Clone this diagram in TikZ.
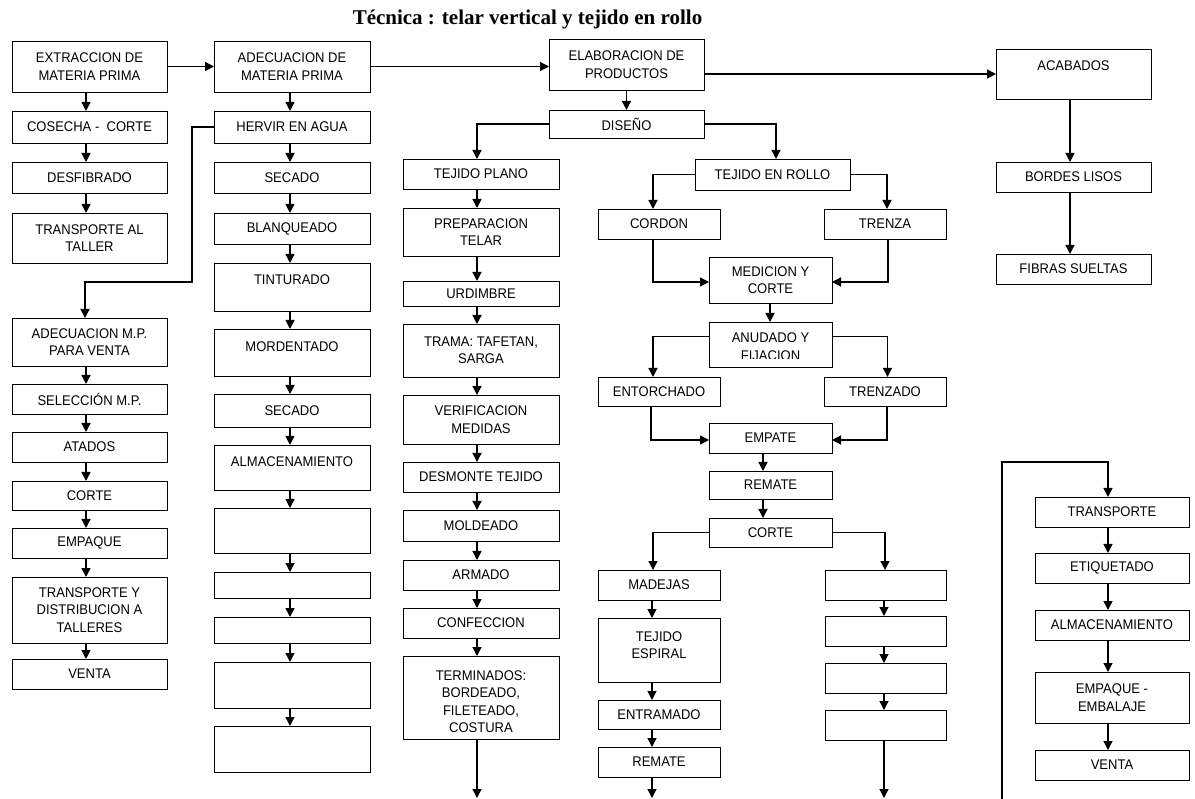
\documentclass[tikz,border=0pt]{standalone}
\usepackage{fontspec}
\setmainfont[FakeStretch=0.93]{Liberation Sans}
\newfontfamily\titlefont{Liberation Serif}
\usetikzlibrary{arrows.meta}

\newcommand\boxfont{\fontsize{14}{17.5}\selectfont}
\tikzset{
  box/.style={draw, line width=0.9pt, align=center, inner sep=2pt, outer sep=0pt, font=\boxfont},
  lbl/.style={align=center, inner sep=0pt, font=\boxfont},
  arr/.style={line width=1.3pt, -{Triangle[length=9pt,width=9pt]}},
}
% \bx[options]{name}{x1}{y1}{x2}{y2}{text}: box by its corners
\newcommand\bx[7][]{%
  \pgfmathsetmacro\bxw{#5-#3}%
  \pgfmathsetmacro\bxh{#6-#4}%
  \node[box,minimum width=\bxw pt,minimum height=\bxh pt,anchor=north west,#1] (#2) at (#3,#4) {#7};}
% \dn[xshift]{from}{to}: straight downward arrow
\newcommand\dn[3][0]{\draw[arr] ([xshift=#1pt]#2.south) -- ([xshift=#1pt]#3.north);}

\begin{document}
\begin{tikzpicture}[x=1pt,y=-1pt]
\useasboundingbox (0,0) rectangle (1195,799);

\node[font=\titlefont\bfseries\fontsize{21}{23}\selectfont, anchor=base, inner sep=0pt] (title) at (527.5,25) {Técnica : telar vertical y tejido en rollo};

% column 1: raw material
\bx{ext}{12}{41}{167}{92}{EXTRACCION DE\\MATERIA PRIMA}
\bx{cos}{12}{111}{167}{143}{COSECHA - \ CORTE}
\bx{desf}{12}{162}{167}{193}{DESFIBRADO}
\bx{tall}{12}{213}{167}{263}{TRANSPORTE AL\\TALLER}
\bx{advm}{12}{318}{167}{366}{ADECUACION M.P.\\PARA VENTA}
\bx{sel}{12}{384}{167}{414}{SELECCIÓN M.P.}
\bx{atad}{12}{432}{167}{462}{ATADOS}
\bx{cort}{12}{481}{167}{510}{CORTE}
\bx{emp}{12}{528}{167}{558}{EMPAQUE}
\bx{tdis}{12}{577}{167}{643}{TRANSPORTE Y\\DISTRIBUCION A\\TALLERES}
\bx{vent}{12}{659}{167}{689}{VENTA}

% column 2: preparation of the fibre
\bx{adec}{214}{41}{370}{92}{ADECUACION DE\\MATERIA PRIMA}
\bx{herv}{214}{111}{370}{143}{HERVIR EN AGUA}
\bx{sec1}{214}{162}{370}{193}{SECADO}
\bx{blan}{214}{213}{370}{244}{BLANQUEADO}
\bx{tint}{214}{263}{370}{311}{}
\node[lbl] (tintT) at ([yshift=-17pt]tint.north) {TINTURADO};
\bx{mord}{214}{329}{370}{376}{}
\node[lbl] (mordT) at ([yshift=-18pt]mord.north) {MORDENTADO};
\bx{sec2}{214}{394}{370}{427}{SECADO}
\bx{alma}{214}{445}{370}{490}{}
\node[lbl] (almaT) at ([yshift=-17pt]alma.north) {ALMACENAMIENTO};
\bx{va}{214}{508}{370}{553}{}
\bx{vb}{214}{572}{370}{598}{}
\bx{vc}{214}{617}{370}{643}{}
\bx{vd}{214}{662}{370}{708}{}
\bx{ve}{214}{726}{370}{772}{}

% products
\bx{elab}{549}{39}{704}{90}{ELABORACION DE\\PRODUCTOS}
\bx{dise}{549}{110}{704}{138}{DISEÑO}

% flat weaving
\bx{tpla}{403}{159}{559}{189}{TEJIDO PLANO}
\bx{prep}{403}{208}{559}{256}{PREPARACION\\TELAR}
\bx{urd}{403}{281}{559}{306}{}
\begin{scope}
  \clip (403,281) rectangle (559,298.5);
  \node[lbl] (urdT) at (481,293.5) {URDIMBRE};
\end{scope}
\bx{trama}{403}{324}{559}{377}{TRAMA: TAFETAN,\\SARGA}
\bx{veri}{403}{395}{559}{444}{VERIFICACION\\MEDIDAS}
\bx{desm}{403}{462}{559}{492}{DESMONTE TEJIDO}
\bx{mold}{403}{510}{559}{541}{MOLDEADO}
\bx{arma}{403}{560}{559}{590}{ARMADO}
\bx{conf}{403}{608}{559}{638}{CONFECCION}
\bx{term}{403}{656}{559}{739}{}
\begin{scope}
  \clip (403,656) rectangle (559,731);
  \node[lbl] (termT) at (481,701.5) {TERMINADOS:\\BORDEADO,\\FILETEADO,\\COSTURA};
\end{scope}

% roll weaving
\bx{trol}{695}{159}{850}{190}{TEJIDO EN ROLLO}
\bx{cord}{598}{209}{720}{239}{CORDON}
\bx{tren}{824}{209}{946}{239}{TRENZA}
\bx{medi}{709}{257}{832}{303}{MEDICION Y\\CORTE}
\bx{anud}{709}{322}{832}{367}{}
\begin{scope}
  \clip (709,322) rectangle (832,358.5);
  \node[lbl] (anudT) at (770.5,346.5) {ANUDADO Y\\FIJACION};
\end{scope}
\bx{ento}{598}{377}{720}{406}{ENTORCHADO}
\bx{trzd}{824}{377}{946}{406}{TRENZADO}
\bx{empa}{709}{423}{832}{453}{EMPATE}
\bx{rema}{709}{471}{832}{499}{REMATE}
\bx{cor2}{709}{518}{832}{547}{CORTE}
\bx{made}{598}{570}{720}{600}{MADEJAS}
\bx{espi}{598}{618}{720}{682}{}
\node[lbl] (espiT) at ([yshift=-27pt]espi.north) {TEJIDO\\ESPIRAL};
\bx{entr}{598}{700}{720}{729}{ENTRAMADO}
\bx{rem2}{598}{747}{720}{777}{REMATE}
\bx{wa}{825}{570}{946}{600}{}
\bx{wb}{825}{616}{946}{646}{}
\bx{wc}{825}{663}{946}{693}{}
\bx{wd}{825}{710}{946}{740}{}

% finishing
\bx{acab}{996}{49}{1151}{99}{}
\node[lbl] (acabT) at ([yshift=-17pt]acab.north) {ACABADOS};
\bx{bord}{996}{162}{1151}{192}{BORDES LISOS}
\bx{fibr}{996}{254}{1151}{284}{FIBRAS SUELTAS}

% distribution
\bx{trsp}{1035}{497}{1189}{527}{TRANSPORTE}
\bx{etiq}{1035}{553}{1189}{583}{ETIQUETADO}
\bx{alm2}{1035}{610}{1189}{640}{ALMACENAMIENTO}
\bx{empq}{1035}{672}{1189}{723}{EMPAQUE -\\EMBALAJE}
\bx{ven2}{1035}{750}{1189}{780}{VENTA}

% free ends and bends
\coordinate (hvA) at (192,282);
\coordinate (endT) at (477,798);
\coordinate (endR) at (652,798);
\coordinate (endW) at (884,798);
\coordinate (lpA) at (1002,799);
\coordinate (lpB) at (1108,462);

% main line
\draw[arr] (ext.east) -- (adec.west);
\draw[arr] (adec.east) -- (adec.east -| elab.west);
\draw[arr] (elab.east |- acab.west) -- (acab.west);

% column 1
\dn[-3.5]{ext}{cos}
\dn[-3.5]{cos}{desf}
\dn[-3.5]{desf}{tall}
\draw[arr] (herv.west) -| (hvA) -| ([xshift=-4.5pt]advm.north);
\dn[-3.5]{advm}{sel}
\dn[-3.5]{sel}{atad}
\dn[-3.5]{atad}{cort}
\dn[-3.5]{cort}{emp}
\dn[-3.5]{emp}{tdis}
\dn[-3.5]{tdis}{vent}

% column 2
\dn[-2]{adec}{herv}
\dn[-2]{herv}{sec1}
\dn[-2]{sec1}{blan}
\dn[-2]{blan}{tint}
\dn[-2]{tint}{mord}
\dn[-2]{mord}{sec2}
\dn[-2]{sec2}{alma}
\dn[-2]{alma}{va}
\dn[-2]{va}{vb}
\dn[-2]{vb}{vc}
\dn[-2]{vc}{vd}
\dn[-2]{vd}{ve}

% products and design
\dn{elab}{dise}
\draw[arr] (dise.west) -| ([xshift=-4pt]tpla.north);
\draw[arr] (dise.east) -| ([xshift=3.5pt]trol.north);

% flat weaving
\dn[-4]{tpla}{prep}
\dn[-4]{prep}{urd}
\dn[-4]{urd}{trama}
\dn[-4]{trama}{veri}
\dn[-4]{veri}{desm}
\dn[-4]{desm}{mold}
\dn[-4]{mold}{arma}
\dn[-4]{arma}{conf}
\dn[-4]{conf}{term}
\draw[arr] ([xshift=-4pt]term.south) -- (endT);

% roll weaving
\draw[arr] (trol.west) -| ([xshift=-6pt]cord.north);
\draw[arr] (trol.east) -| ([xshift=2pt]tren.north);
\draw[arr] ([xshift=-6pt]cord.south) |- ([yshift=-2pt]medi.west);
\draw[arr] ([xshift=3pt]tren.south) |- ([yshift=-2pt]medi.east);
\dn[-0.5]{medi}{anud}
\draw[arr] ([yshift=8pt]anud.west) -| ([xshift=-6pt]ento.north);
\draw[arr] ([yshift=8pt]anud.east) -| ([xshift=2.5pt]trzd.north);
\draw[arr] ([xshift=-8pt]ento.south) |- ([yshift=-2pt]empa.west);
\draw[arr] ([xshift=2pt]trzd.south) |- ([yshift=-2pt]empa.east);
\dn[-7.5]{empa}{rema}
\dn[-7.5]{rema}{cor2}
\draw[arr] (cor2.west) -| ([xshift=-6pt]made.north);
\draw[arr] (cor2.east) -| ([xshift=-0.5pt]wa.north);
\dn[-7]{made}{espi}
\dn[-7]{espi}{entr}
\dn[-7]{entr}{rem2}
\draw[arr] ([xshift=-7pt]rem2.south) -- (endR);
\dn[-1.5]{wa}{wb}
\dn[-1.5]{wb}{wc}
\dn[-1.5]{wc}{wd}
\draw[arr] ([xshift=-1.5pt]wd.south) -- (endW);

% finishing
\dn[-3.5]{acab}{bord}
\dn[-3.5]{bord}{fibr}

% distribution
\draw[arr] (lpA) |- (lpB) -- ([xshift=-4pt]trsp.north);
\dn[-4]{trsp}{etiq}
\dn[-4]{etiq}{alm2}
\dn[-4]{alm2}{empq}
\dn[-4]{empq}{ven2}
\end{tikzpicture}
\end{document}
